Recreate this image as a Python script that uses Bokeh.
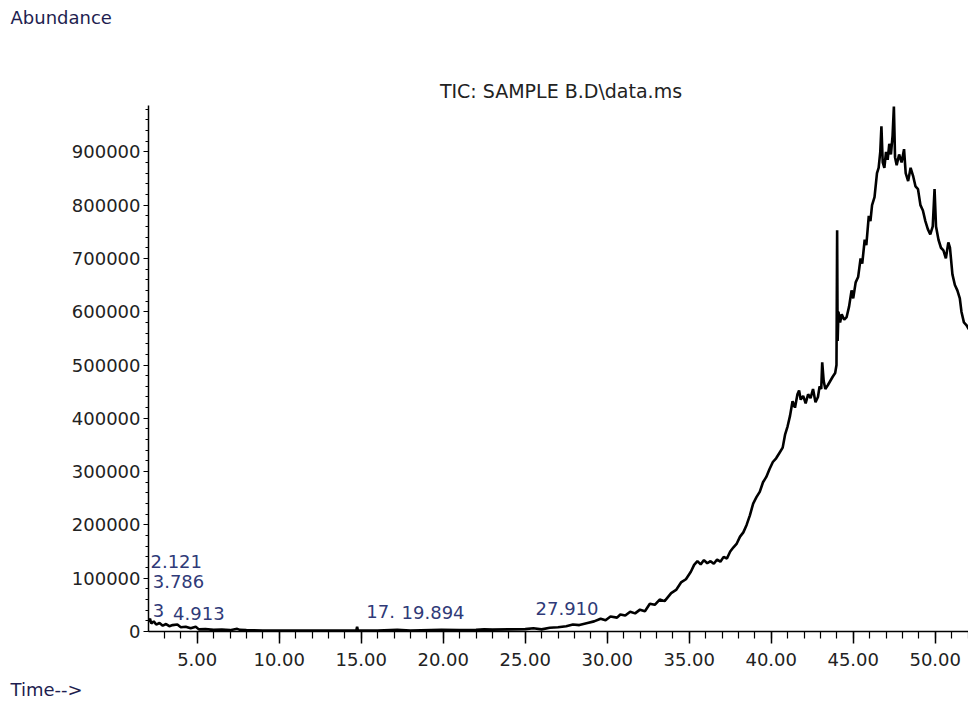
from bokeh.plotting import figure
from bokeh.models import Range1d, SingleIntervalTicker, Label, NumeralTickFormatter, Title
from bokeh.embed import file_html
from bokeh.resources import INLINE

# ---- data (time in min, abundance) ----
time = [2.00, 2.06, 2.12, 2.20, 2.35, 2.50, 2.70, 2.90, 3.10, 3.30, 3.50, 3.79, 4.00, 4.30,
        4.60, 4.91, 5.10, 5.50, 6.00, 6.50, 7.00, 7.44, 7.60, 8.00, 9.00, 10.00, 11.00,
        12.00, 13.00, 14.00, 14.70, 14.75, 14.80, 16.00, 17.20, 18.00, 19.89, 21.00, 22.00,
        22.50, 23.00, 24.00, 25.00, 25.50, 26.00, 26.50, 27.00, 27.50, 27.91, 28.30, 28.80,
        29.20, 29.60, 29.90, 30.20, 30.60, 30.80, 31.10, 31.40, 31.70, 32.00, 32.30, 32.60,
        32.90, 33.20, 33.50, 33.90, 34.20, 34.50, 34.80, 35.10, 35.30, 35.50, 35.70, 35.90,
        36.10, 36.30, 36.50, 36.70, 36.90, 37.10, 37.30, 37.50, 37.70, 37.90, 38.10, 38.30,
        38.50, 38.70, 38.90, 39.10, 39.30, 39.50, 39.70, 39.90, 40.10, 40.30, 40.50, 40.70,
        40.85, 41.00, 41.15, 41.30, 41.45, 41.60, 41.70, 41.80, 41.95, 42.10, 42.25, 42.40,
        42.55, 42.70, 42.85, 42.95, 43.05, 43.11, 43.20, 43.30, 43.45, 43.60, 43.75, 43.90,
        43.98, 44.02, 44.05, 44.10, 44.20, 44.30, 44.45, 44.60, 44.75, 44.90, 45.00, 45.15,
        45.30, 45.45, 45.55, 45.70, 45.80, 45.95, 46.05, 46.15, 46.30, 46.45, 46.55, 46.65,
        46.72, 46.80, 46.90, 47.00, 47.10, 47.20, 47.30, 47.40, 47.48, 47.55, 47.65, 47.80,
        47.95, 48.10, 48.20, 48.35, 48.50, 48.65, 48.80, 48.95, 49.10, 49.25, 49.40, 49.55,
        49.70, 49.85, 49.96, 50.05, 50.20, 50.35, 50.50, 50.65, 50.80, 50.90, 51.05, 51.20,
        51.35, 51.50, 51.60, 51.75, 51.90, 52.00, 52.10]
abundance = [25000, 18000, 24000, 15000, 19000, 13000, 16000, 11000, 14000, 10000, 12000, 13000,
             8000, 9000, 6000, 9000, 4000, 4500, 3000, 3500, 2500, 5000, 3000, 2500, 2000, 2000,
             2000, 2000, 2000, 2000, 2000, 9000, 2000, 2000, 3000, 2000, 3000, 2500, 3000, 4000,
             3500, 4000, 4500, 6000, 4000, 7000, 8000, 10000, 13000, 12000, 16000, 19000, 24000,
             21000, 28000, 26000, 32000, 30000, 37000, 34000, 41000, 38000, 52000, 50000, 60000,
             57000, 72000, 78000, 92000, 98000, 112000, 125000, 132000, 126000, 134000, 128000,
             132000, 127000, 135000, 131000, 140000, 137000, 150000, 158000, 165000, 178000,
             186000, 200000, 218000, 240000, 252000, 262000, 280000, 290000, 305000, 318000,
             325000, 335000, 345000, 370000, 385000, 405000, 432000, 420000, 445000, 452000,
             435000, 442000, 428000, 445000, 438000, 455000, 430000, 440000, 460000, 455000,
             505000, 470000, 455000, 462000, 470000, 478000, 485000, 500000, 753000, 545000,
             600000, 580000, 595000, 585000, 590000, 610000, 640000, 625000, 655000, 665000,
             700000, 690000, 735000, 725000, 780000, 770000, 800000, 815000, 860000, 870000,
             900000, 948000, 880000, 870000, 900000, 885000, 915000, 895000, 930000, 985000,
             890000, 875000, 895000, 880000, 905000, 860000, 845000, 870000, 855000, 835000,
             830000, 800000, 790000, 770000, 755000, 745000, 760000, 830000, 760000, 735000,
             720000, 715000, 700000, 730000, 720000, 670000, 650000, 640000, 625000, 600000,
             580000, 575000, 570000, 565000]

# peak annotations (text, time, abundance position, alignment)
peak_text = ["2.121", "3.786", "3", "4.913", "17.", "19.894", "27.910"]
peak_t = [2.15, 3.86, 2.64, 5.10, 15.31, 19.38, 27.55]
peak_a = [132000, 94500, 40000, 34000, 37000, 36000, 44000]
peak_align = ["left", "center", "center", "center", "left", "center", "center"]

title_text = "TIC: SAMPLE B.D\\data.ms"
title_t, title_a = 27.18, 1015000

x_start, x_end = 2.03, 52.03
axis_top = 987000          # the y axis line ends here
y_start, y_end = 0, 1127600  # frame reaches up to the page top area

p = figure(width=968, height=708, x_range=Range1d(x_start, x_end), y_range=Range1d(y_start, y_end),
           output_backend="svg", toolbar_location=None,
           min_border_left=148, min_border_right=0, min_border_top=30, min_border_bottom=77)
p.background_fill_color = "white"
p.border_fill_color = "white"
p.outline_line_color = None
p.xgrid.visible = False
p.ygrid.visible = False

p.line(time, abundance, line_color="black", line_width=2.6)

xa = p.xaxis[0]
xa.ticker = SingleIntervalTicker(interval=5, num_minor_ticks=5)
xa.formatter = NumeralTickFormatter(format="0.00")
ya = p.yaxis[0]
ya.ticker = SingleIntervalTicker(interval=100000, num_minor_ticks=5)
ya.formatter = NumeralTickFormatter(format="0")
ya.bounds = (y_start, axis_top)

for ax in (xa, ya):
    ax.axis_line_color = "black"
    ax.axis_line_width = 1.5
    ax.major_tick_line_color = "black"
    ax.minor_tick_line_color = "black"
    ax.major_tick_in = 0
    ax.minor_tick_in = 0
    ax.major_label_text_font = "DejaVu Sans"
    ax.major_label_text_font_size = "18px"
    ax.major_label_text_color = "#222222"

xa.major_tick_out = 12
xa.minor_tick_out = 7
xa.major_tick_line_width = 1.5
xa.minor_tick_line_width = 1.2
xa.major_label_standoff = 9

ya.major_tick_out = 5
ya.minor_tick_out = 3
ya.major_label_standoff = 3

label_color = "#2f3a78"
for s, t, a, al in zip(peak_text, peak_t, peak_a, peak_align):
    p.add_layout(Label(x=t, y=a, text=s, text_align=al, text_baseline="middle",
                       text_font="DejaVu Sans", text_font_size="18px", text_color=label_color,
                       background_fill_color="white"))

p.add_layout(Label(x=title_t, y=title_a, text=title_text, text_align="center",
                   text_baseline="middle", text_font="DejaVu Sans", text_font_size="19px",
                   text_color="#222222"))

p.add_layout(Title(text="Abundance", align="left", offset=-138, vertical_align="top",
                   text_font="DejaVu Sans", text_font_size="18px", text_font_style="normal",
                   text_color="#1e1e50", standoff=2), "above")
p.add_layout(Title(text="Time-->", align="left", offset=-138, text_font="DejaVu Sans",
                   text_font_size="18px", text_font_style="normal", text_color="#1e1e50",
                   standoff=16), "below")

open("out.html", "w").write(file_html(p, INLINE))
